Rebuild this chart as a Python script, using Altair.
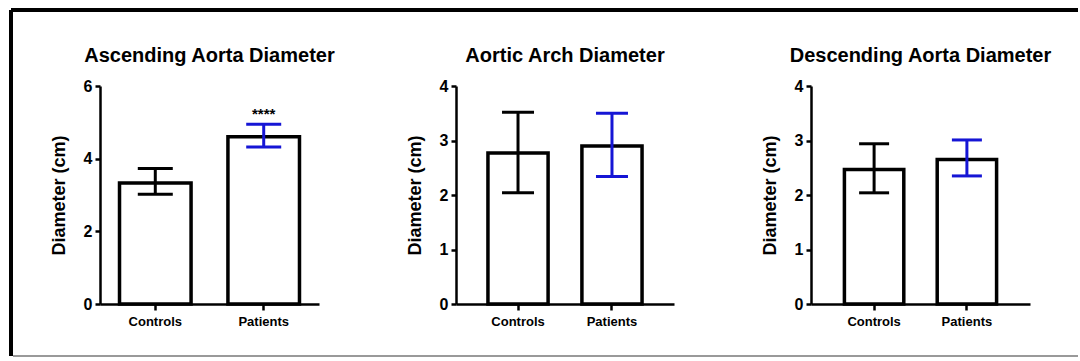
import altair as alt
import pandas as pd

FONT = "Liberation Sans"
BLUE = "#1515d5"

groups = ["Controls", "Patients"]
titles = ["Ascending Aorta Diameter", "Aortic Arch Diameter", "Descending Aorta Diameter"]
means = [[3.33, 4.60], [2.77, 2.90], [2.47, 2.65]]
lower = [[3.02, 4.32], [2.04, 2.34], [2.04, 2.35]]
upper = [[3.73, 4.95], [3.52, 3.50], [2.94, 3.01]]
sig = [["", "****"], ["", ""], ["", ""]]
y_max = [6, 4, 4]
y_ticks = [[0, 2, 4, 6], [0, 1, 2, 3, 4], [0, 1, 2, 3, 4]]

# layout/style per panel
widths = [219, 218, 219]
pad_inner = [0.34, 0.36, 0.36]
pad_outer = [0.18, 0.34, 0.36]
cap_size = [35, 32, 30]


def panel(i):
    df = pd.DataFrame({
        "group": groups,
        "mean": means[i],
        "lo": lower[i],
        "hi": upper[i],
        "sig": sig[i],
    })
    x = alt.X("group:N",
              scale=alt.Scale(domain=groups, paddingInner=pad_inner[i], paddingOuter=pad_outer[i]),
              axis=alt.Axis(title=None, labelAngle=0))
    ysc = alt.Scale(domain=[0, y_max[i]], nice=False)
    yax = alt.Axis(values=y_ticks[i], format="d")
    color = alt.Color("group:N", scale=alt.Scale(domain=groups, range=["black", BLUE]), legend=None)
    base = alt.Chart(df)
    bars = base.mark_bar(fill="white", stroke="black", strokeWidth=3.5).encode(
        x=x, y=alt.Y("mean:Q", scale=ysc, axis=yax, title="Diameter (cm)"))
    stem = base.mark_rule(strokeWidth=3).encode(
        x=x, y=alt.Y("lo:Q", scale=ysc, title="Diameter (cm)"), y2="hi:Q", color=color)
    cap_hi = base.mark_tick(size=cap_size[i], thickness=3, opacity=1).encode(
        x=x, y=alt.Y("hi:Q", scale=ysc, title="Diameter (cm)"), color=color)
    cap_lo = base.mark_tick(size=cap_size[i], thickness=3, opacity=1).encode(
        x=x, y=alt.Y("lo:Q", scale=ysc, title="Diameter (cm)"), color=color)
    layers = [bars, stem, cap_hi, cap_lo]
    frame = alt.Chart(alt.Data(values=[{"k": 1}]))
    ttl = frame.mark_text(font=FONT, fontSize=20, fontWeight="bold", baseline="alphabetic",
                          align="center", color="black").encode(
        x=alt.value(widths[i] / 2), y=alt.value(-24), text=alt.value(titles[i]))
    layers.append(ttl)
    if i == 0:
        txt = base.mark_text(font=FONT, fontSize=15, fontWeight="bold", baseline="alphabetic",
                             dy=-5, color="black").encode(
            x=x, y=alt.Y("hi:Q", scale=ysc, title="Diameter (cm)"), text="sig:N")
        layers.append(txt)
        top = frame.mark_rule(color="black", strokeWidth=4).encode(
            x=alt.value(-89), x2=alt.value(978), y=alt.value(-76))
        left = frame.mark_rule(color="black", strokeWidth=4).encode(
            x=alt.value(-89), y=alt.value(-76), y2=alt.value(270))
        bottom = frame.mark_rule(color="#777777", strokeWidth=1.5).encode(
            x=alt.value(-87), x2=alt.value(978), y=alt.value(270))
        layers += [top, left, bottom]
    return alt.layer(*layers).properties(width=widths[i], height=218)


chart = alt.hconcat(panel(0), panel(1), panel(2), spacing=137, bounds="flush").properties(
    padding={"left": 9, "top": 8, "right": 0, "bottom": 4},
    background="white",
).configure_view(stroke=None).configure_axis(
    domainColor="black", domainWidth=2.5, tickColor="black", tickWidth=2.5,
    labelColor="black", labelFont=FONT, labelFontWeight="bold",
    titleFont=FONT, titleFontWeight="bold", titleColor="black", grid=False,
).configure_axisY(
    labelFontSize=16, titleFontSize=18, tickSize=5, labelPadding=3, titlePadding=15,
).configure_axisX(
    labelFontSize=13, tickSize=6, labelPadding=5,
)

chart.save("out.html", embed_options={"renderer": "svg", "actions": False})
